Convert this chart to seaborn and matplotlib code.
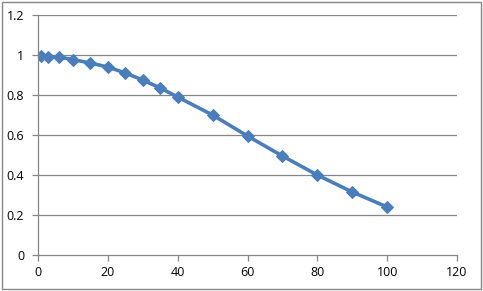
import matplotlib
matplotlib.use("Agg")
import matplotlib.pyplot as plt
import seaborn as sns
import pandas as pd
from matplotlib.patches import Rectangle

x_vals = [1, 3, 6, 10, 15, 20, 25, 30, 35, 40, 50, 60, 70, 80, 90, 100]
y_vals = [0.995, 0.99, 0.99, 0.977, 0.96, 0.94, 0.91, 0.875, 0.835, 0.79,
          0.70, 0.595, 0.495, 0.40, 0.315, 0.24]
x_ticks = [0, 20, 40, 60, 80, 100, 120]
y_ticks = [0, 0.2, 0.4, 0.6, 0.8, 1, 1.2]
y_labels = ["0", "0.2", "0.4", "0.6", "0.8", "1", "1.2"]

df = pd.DataFrame({"x": x_vals, "y": y_vals})

sns.set_style("white")
plt.rcParams['font.family'] = ['Open Sans', 'DejaVu Sans']

fig = plt.figure(figsize=(4.83, 2.91), dpi=100)
ax = fig.add_axes([38/483, 36/291, (457-38)/483, (255-15)/291])

line_col = "#4A7EBB"
sns.lineplot(data=df, x="x", y="y", ax=ax, color=line_col, linewidth=2.6,
             marker="D", markersize=6.5, markeredgecolor=line_col,
             markerfacecolor=line_col)

ax.set_xlim(0, 120)
ax.set_ylim(0, 1.2)
ax.set_xticks(x_ticks)
ax.set_xticklabels([str(t) for t in x_ticks])
ax.set_yticks(y_ticks)
ax.set_yticklabels(y_labels)
ax.set_xlabel("")
ax.set_ylabel("")

grid_col = "#868686"
for yv in y_ticks[1:]:
    ax.axhline(yv, color=grid_col, linewidth=0.9, zorder=0)

for s in ["top", "right"]:
    ax.spines[s].set_visible(False)
for s in ["left", "bottom"]:
    ax.spines[s].set_color(grid_col)
    ax.spines[s].set_linewidth(0.9)

ax.tick_params(axis="both", direction="out", length=4, width=0.9,
               color=grid_col, labelsize=9, labelcolor="black")
ax.tick_params(axis="x", bottom=True, pad=4)
ax.tick_params(axis="y", left=True, pad=6)

fig.patches.append(Rectangle((2/483, 2/291), 479/483, 287/291,
                             transform=fig.transFigure, fill=False,
                             edgecolor="#868686", linewidth=1))

fig.savefig("out.png", dpi=100)
